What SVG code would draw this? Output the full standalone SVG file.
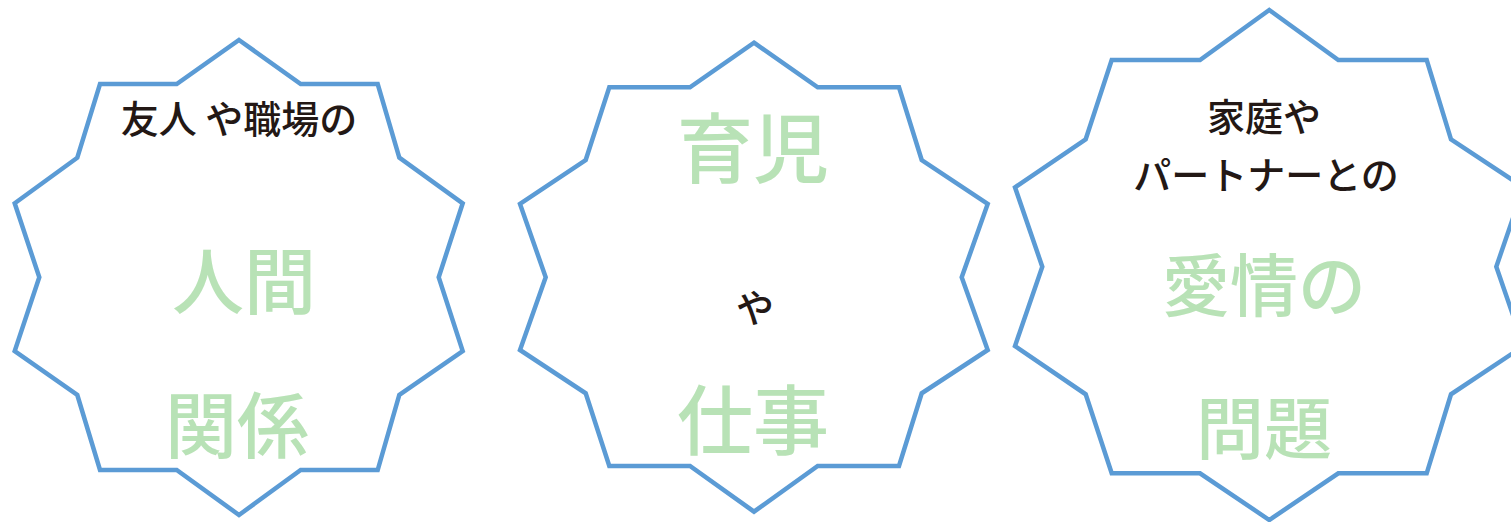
<svg xmlns="http://www.w3.org/2000/svg" width="1511" height="522" viewBox="0 0 1511 522">
<style>
.star{fill:#ffffff;stroke:#5b9bd5;stroke-width:4.5;stroke-linejoin:miter}
.blk{fill:#231815;font-family:"Noto Sans CJK JP","Noto Sans",sans-serif;font-size:38px;font-weight:500}
.grn{fill:#b8e2b6;font-family:"Noto Sans CJK JP","Noto Sans",sans-serif;font-weight:500}
</style>
<rect width="1511" height="522" fill="#ffffff"/>
<g id="connectors"></g>
<g id="node1">
<polygon class="star" points="239,40 300.7,84 377.7,84 399.3,157.7 462.7,203.3 438.7,277.3 462.7,351 399.3,395 377.7,470 300.7,470 239,515 176.7,470 100,470 77.3,395 14.7,351 39.3,277.3 14.7,203.3 77.3,157.7 100,84 176.7,84"/>
<text class="blk" x="239" y="133" text-anchor="middle">友人 や職場の</text>
<text class="grn" x="244" y="308" font-size="72" text-anchor="middle">人間</text>
<text class="grn" x="237" y="452" font-size="72" text-anchor="middle">関係</text>
</g>
<g id="node2">
<polygon class="star" points="754,42.7 817.7,87.3 899,87.3 921.7,160 987.7,204 961.7,277.3 987.7,350 921.7,393.3 899,466 817.7,466 754,511.7 690,466 609.3,466 585.7,393.3 520,350 545.7,277.3 520,204 585.7,160 609.3,87.3 690,87.3"/>
<text class="grn" x="753" y="177" font-size="76" text-anchor="middle">育児</text>
<text class="blk" x="755" y="322" font-size="54" text-anchor="middle">や</text>
<text class="grn" x="753" y="449" font-size="76" text-anchor="middle">仕事</text>
</g>
<g id="node3">
<polygon class="star" points="1269.3,10 1338.3,60 1426.7,60 1451,139.3 1523.6,187.3 1496.3,266.7 1523.6,346 1451,394.3 1426.7,473.3 1338.3,473.3 1269.3,520 1200,473.3 1111.7,473.3 1085.7,394.3 1015,346 1042.3,266.7 1015,187.3 1085.7,139.3 1111.7,60 1200,60"/>
<text class="blk" x="1264" y="131" text-anchor="middle">家庭や</text>
<text class="blk" x="1266" y="189" font-size="40" text-anchor="middle">パートナーとの</text>
<text class="grn" x="1264" y="311" font-size="68" text-anchor="middle">愛情の</text>
<text class="grn" x="1264" y="454" font-size="68" text-anchor="middle">問題</text>
</g>
</svg>
